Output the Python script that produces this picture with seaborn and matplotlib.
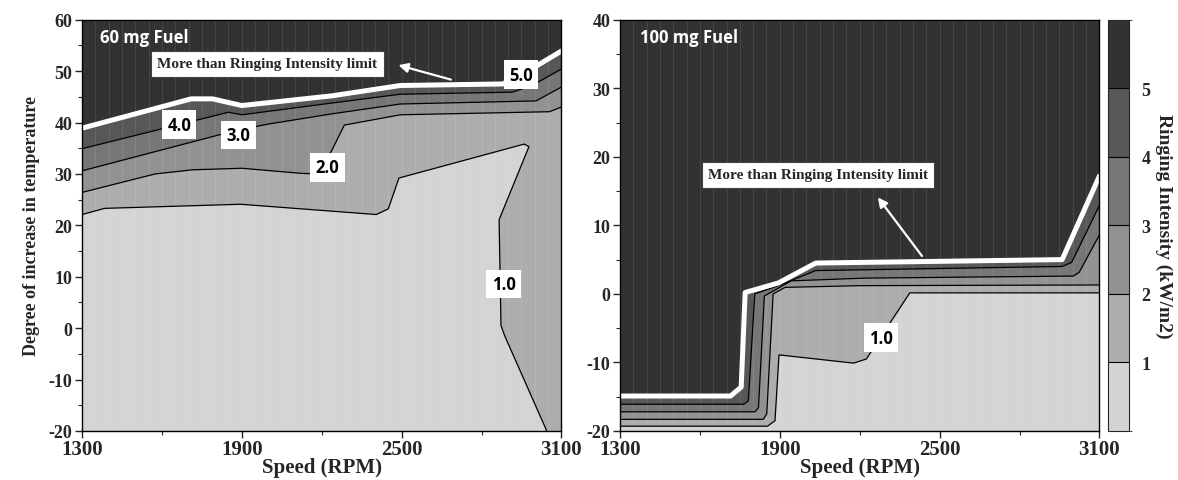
import numpy as np
import matplotlib
matplotlib.use("Agg")
import matplotlib.pyplot as plt
from matplotlib.colors import ListedColormap, BoundaryNorm
from matplotlib.cm import ScalarMappable
import seaborn as sns

# -----------------------------
# Contour boundaries (speed in RPM, temperature rise)
# -----------------------------
# 60 mg fuel
f60_l5_rpm = [1300, 1710, 1790, 1900, 2240, 2495, 2880, 2990, 3100]
f60_l5_temp = [38.9, 44.6, 44.6, 43.3, 45.2, 47.2, 47.5, 50.5, 53.9]
f60_l4_rpm = [1300, 1850, 1900, 2240, 2495, 2915, 2990, 3100]
f60_l4_temp = [34.9, 42.0, 41.5, 43.8, 45.5, 45.9, 47.2, 50.4]
f60_l3_rpm = [1300, 1815, 1960, 2000, 2240, 2495, 3005, 3100]
f60_l3_temp = [30.6, 37.6, 39.3, 39.7, 41.7, 43.6, 44.2, 46.9]
f60_l2_rpm = [1300, 1575, 1715, 1900, 2125, 2190, 2240, 2285, 2495, 3055, 3100]
f60_l2_temp = [26.4, 30.0, 30.8, 31.1, 30.1, 30.0, 34.8, 39.5, 41.5, 42.1, 43.0]
f60_l1_rpm = [1300, 1385, 1895, 2405, 2450, 2490, 2960, 2978, 2866, 2873, 2887, 3045]
f60_l1_temp = [22.1, 23.3, 24.1, 22.1, 23.2, 29.2, 35.8, 35.3, 21.1, 0.5, -1.5, -20.0]

# 100 mg fuel
f100_l5_rpm = [1300, 1715, 1755, 1770, 1895, 2035, 2960, 3100]
f100_l5_temp = [-14.9, -14.9, -13.6, 0.2, 1.6, 4.5, 5.0, 17.2]
f100_l4_rpm = [1300, 1765, 1782, 1806, 1895, 2035, 2960, 2996, 3100]
f100_l4_temp = [-16.1, -16.1, -15.6, 0.0, 1.2, 3.4, 4.0, 4.6, 12.9]
f100_l3_rpm = [1300, 1807, 1820, 1842, 1943, 2220, 3002, 3024, 3100]
f100_l3_temp = [-17.2, -17.2, -16.6, -0.3, 1.9, 2.3, 2.6, 3.15, 8.6]
f100_l2_rpm = [1300, 1838, 1851, 1875, 1920, 2200, 3100]
f100_l2_temp = [-18.3, -18.3, -17.5, 0.0, 0.95, 1.2, 1.3]
f100_l1_rpm = [1300, 1854, 1882, 1897, 2177, 2225, 2388, 3100]
f100_l1_temp = [-19.3, -19.3, -18.5, -8.9, -10.1, -9.5, 0.15, 0.15]

# contour labels
f60_label_text = ["5.0", "4.0", "3.0", "2.0", "1.0"]
f60_label_rpm = [2948, 1665, 1888, 2222, 2883]
f60_label_temp = [49.3, 39.6, 37.6, 31.3, 8.6]
f100_label_text = ["1.0"]
f100_label_rpm = [2280]
f100_label_temp = [-6.4]

levels = [0, 1, 2, 3, 4, 5, 6]
level_colors = ["#d4d4d4", "#adadad", "#929292", "#777777", "#575757", "#323232"]
cbar_ticks = [1, 2, 3, 4, 5]

speed_ticks = [1300, 1900, 2500, 3100]

# -----------------------------
# Style
# -----------------------------
sns.set_style("ticks")
plt.rcParams["font.family"] = ["Liberation Serif", "DejaVu Serif"]
plt.rcParams["font.weight"] = "bold"
plt.rcParams["axes.labelweight"] = "bold"
plt.rcParams["axes.unicode_minus"] = False

fig = plt.figure(figsize=(11.78, 4.81), dpi=100)
ax1 = fig.add_axes([0.0696, 0.1019, 0.4070, 0.8551])
ax2 = fig.add_axes([0.5263, 0.1019, 0.4070, 0.8551])
cax = fig.add_axes([0.9406, 0.1019, 0.0178, 0.8551])


def draw_panel(ax, lines, ylim, title, title_rpm, label_text, label_rpm, label_temp):
    ax.set_xlim(1300, 3100)
    ax.set_ylim(*ylim)
    ax.set_facecolor(level_colors[5])
    # paint bands from the top level down
    for i, (xs, ys) in enumerate(lines[:4]):
        ax.fill(list(xs) + [3100, 1300], list(ys) + [ylim[0], ylim[0]],
                color=level_colors[4 - i], lw=0, zorder=1 + i)
    xs, ys = lines[4]
    end_x = xs[-1] if ys[-1] == ylim[0] else 3100
    ax.fill(list(xs) + [end_x, 1300], list(ys) + [ylim[0], ylim[0]],
            color=level_colors[0], lw=0, zorder=5)
    # faint texture lines
    for v in np.arange(1350, 3100, 50):
        ax.axvline(v, color="white", alpha=0.10, lw=0.7, zorder=6)
    # contour lines
    for i, (xs, ys) in enumerate(lines):
        if i == 0:
            sns.lineplot(x=xs, y=ys, sort=False, estimator=None, color="white",
                         lw=3.6, ax=ax, zorder=8)
        else:
            sns.lineplot(x=xs, y=ys, sort=False, estimator=None, color="black",
                         lw=0.9, ax=ax, zorder=7)
    for t, x, y in zip(label_text, label_rpm, label_temp):
        ax.text(x, y, t, ha="center", va="center", fontsize=12,
                family="Open Sans", weight="bold", color="black", zorder=10,
                bbox=dict(boxstyle="square,pad=0.32", fc="white", ec="none"))
    ax.text(title_rpm, ylim[1] - (ylim[1] - ylim[0]) * 0.042, title, ha="left",
            va="center", fontsize=12, family="Open Sans", weight="bold",
            color="white", zorder=10)
    ax.set_xticks(speed_ticks)
    ax.set_xticks([1600, 2200, 2800], minor=True)
    ax.set_xticklabels([str(s) for s in speed_ticks], fontsize=15, weight="bold")
    ax.set_xlabel("Speed (RPM)", fontsize=15, weight="bold", labelpad=-2)
    ax.tick_params(axis="x", which="major", length=5, width=1, pad=1)
    ax.tick_params(axis="y", which="major", length=5, width=1, labelsize=13, pad=2)
    ax.tick_params(which="minor", length=3, width=0.8)
    for s in ax.spines.values():
        s.set_linewidth(1.0)
        s.set_color("black")
        s.set_zorder(12)


draw_panel(ax1,
           [(f60_l5_rpm, f60_l5_temp), (f60_l4_rpm, f60_l4_temp),
            (f60_l3_rpm, f60_l3_temp), (f60_l2_rpm, f60_l2_temp),
            (f60_l1_rpm, f60_l1_temp)],
           (-20, 60), "60 mg Fuel", 1369, f60_label_text, f60_label_rpm, f60_label_temp)
ax1.set_yticks(np.arange(-20, 61, 10))
ax1.set_yticks(np.arange(-15, 60, 10), minor=True)
ax1.set_ylabel("Degree of increase in temperature", fontsize=13, weight="bold", labelpad=6)

draw_panel(ax2,
           [(f100_l5_rpm, f100_l5_temp), (f100_l4_rpm, f100_l4_temp),
            (f100_l3_rpm, f100_l3_temp), (f100_l2_rpm, f100_l2_temp),
            (f100_l1_rpm, f100_l1_temp)],
           (-20, 40), "100 mg Fuel", 1377, f100_label_text, f100_label_rpm, f100_label_temp)
ax2.set_yticks(np.arange(-20, 41, 10))
ax2.set_yticks(np.arange(-15, 40, 10), minor=True)

# limit annotations
box = dict(boxstyle="square,pad=0.4", fc="white", ec="#444444", lw=0.8)
ax1.text(1996, 51.4, "More than Ringing Intensity limit", ha="center", va="center",
         fontsize=11, weight="bold", zorder=11, bbox=box)
ax1.annotate("", xy=(2478, 51.3), xytext=(2695, 48.2), zorder=11,
             arrowprops=dict(arrowstyle="-|>", color="white", lw=1.6, mutation_scale=14))
ax2.text(2043, 17.35, "More than Ringing Intensity limit", ha="center", va="center",
         fontsize=11, weight="bold", zorder=11, bbox=box)
ax2.annotate("", xy=(2262, 14.4), xytext=(2440, 5.2), zorder=11,
             arrowprops=dict(arrowstyle="-|>", color="white", lw=1.6, mutation_scale=14))

# colorbar
cmap = ListedColormap(level_colors)
norm = BoundaryNorm(levels, cmap.N)
cb = fig.colorbar(ScalarMappable(norm=norm, cmap=cmap), cax=cax, ticks=cbar_ticks,
                  drawedges=True)
cb.outline.set_linewidth(0.8)
cb.dividers.set_color("black")
cb.dividers.set_linewidth(0.8)
cax.tick_params(length=0, labelsize=13, pad=9)
cb.set_label("Ringing Intensity (kW/m2)", rotation=270, fontsize=14, weight="bold",
             labelpad=16)

fig.savefig("out.png", dpi=100)
